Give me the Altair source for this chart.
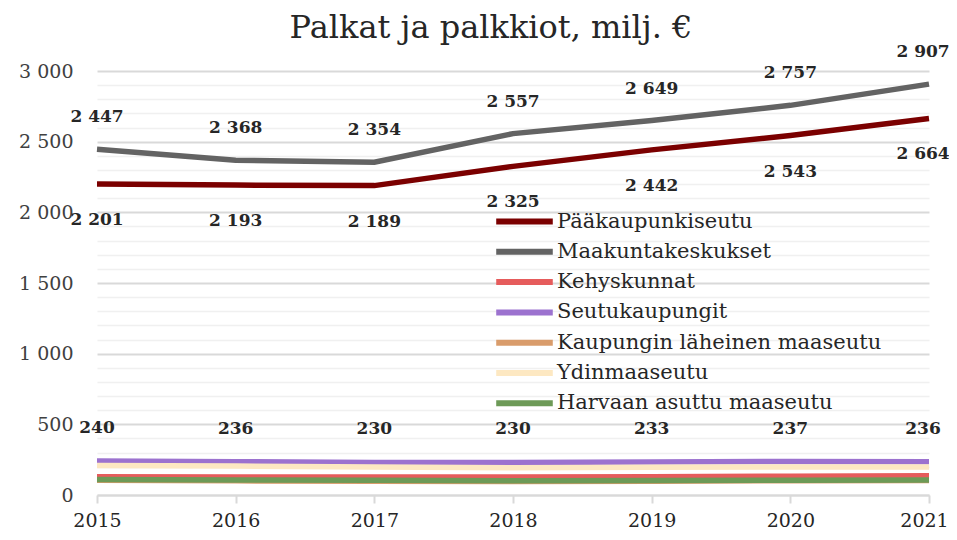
import altair as alt
import pandas as pd

years = [2015, 2016, 2017, 2018, 2019, 2020, 2021]
series_names = [
    "Pääkaupunkiseutu",
    "Maakuntakeskukset",
    "Kehyskunnat",
    "Seutukaupungit",
    "Kaupungin läheinen maaseutu",
    "Ydinmaaseutu",
    "Harvaan asuttu maaseutu",
]
paakaupunkiseutu = [2201, 2193, 2189, 2325, 2442, 2543, 2664]
maakuntakeskukset = [2447, 2368, 2354, 2557, 2649, 2757, 2907]
kehyskunnat = [130, 128, 127, 127, 130, 133, 136]
seutukaupungit = [240, 236, 230, 230, 233, 237, 236]
kaupungin_laheinen = [105, 100, 98, 96, 98, 101, 103]
ydinmaaseutu = [209, 205, 198, 192, 196, 199, 199]
harvaan_asuttu = [110, 106, 104, 101, 103, 105, 106]
colors = ["#7b0000", "#636363", "#e65c5c", "#9c72cf", "#d99c6b", "#fde8c2", "#6d9a57"]

all_values = [paakaupunkiseutu, maakuntakeskukset, kehyskunnat, seutukaupungit,
              kaupungin_laheinen, ydinmaaseutu, harvaan_asuttu]
rows = []
for name, vals in zip(series_names, all_values):
    for yr, v in zip(years, vals):
        rows.append({"Vuosi": yr, "Alue": name, "Arvo": v})
df = pd.DataFrame(rows)

FONT = "DejaVu Serif"
LAST = years[-1]

x = alt.X("Vuosi:Q",
          scale=alt.Scale(domain=[2015, 2021], nice=False, zero=False),
          axis=alt.Axis(values=years, format="d", title=None, grid=False,
                        labelFlush=False,
                        labelOffset=alt.condition(f"datum.value == {LAST}", alt.value(-5), alt.value(0)),
                        labelFont=FONT, labelFontSize=19, labelColor="#262626",
                        labelPadding=8, domainColor="#d9d9d9", domainWidth=2,
                        tickColor="#d9d9d9", tickWidth=2, tickSize=8))
y = alt.Y("Arvo:Q",
          scale=alt.Scale(domain=[0, 3000], nice=False),
          axis=alt.Axis(values=list(range(0, 3001, 100)), title=None,
                        labelExpr="datum.value % 500 === 0 ? replace(format(datum.value, ','), ',', ' ') : ''",
                        labelOverlap=False,
                        labelFont=FONT, labelFontSize=19, labelColor="#404040",
                        labelPadding=24, domain=False, ticks=False,
                        gridColor=alt.condition("datum.value % 500 === 0", alt.value("#d9d9d9"), alt.value("#f0f0f0")),
                        gridWidth=alt.condition("datum.value % 500 === 0", alt.value(2), alt.value(1.5))))

lines = alt.Chart(df).mark_line(strokeWidth=5.5, interpolate="linear").encode(
    x=x, y=y,
    color=alt.Color("Alue:N", sort=series_names,
                    scale=alt.Scale(domain=series_names, range=colors),
                    legend=alt.Legend(title=None, orient="none", legendX=410, legendY=133,
                                      symbolType="M-2,0H2", symbolStrokeWidth=6,
                                      symbolSize=800, labelFont=FONT, labelFontSize=21,
                                      labelColor="#262626", rowPadding=0.3, labelOffset=15,
                                      labelLimit=400)),
)

def labels(name, dy):
    base = alt.Chart(df).transform_filter(alt.datum.Alue == name).transform_calculate(
        label="replace(format(datum.Arvo, ','), ',', ' ')"
    )
    inner = base.transform_filter(alt.datum.Vuosi < LAST).mark_text(
        font=FONT, fontSize=17, fontWeight="bold", color="#262626", dy=dy
    ).encode(x=x, y=y, text="label:N")
    last = base.transform_filter(alt.datum.Vuosi == LAST).mark_text(
        font=FONT, fontSize=17, fontWeight="bold", color="#262626", dy=dy, dx=-6
    ).encode(x=x, y=y, text="label:N")
    return [inner, last]

chart = alt.layer(
    lines,
    *labels("Pääkaupunkiseutu", 36),
    *labels("Maakuntakeskukset", -32),
    *labels("Seutukaupungit", -33),
).properties(
    width=832, height=424,
    title=alt.TitleParams("Palkat ja palkkiot, milj. €", font=FONT, fontSize=32,
                          fontWeight="normal", color="#262626", anchor="middle",
                          dx=-22, offset=3, dy=5),
    autosize=alt.AutoSizeParams(type="none"),
    padding={"left": 89, "top": 63, "right": 20, "bottom": 36},
).configure_view(stroke=None)

chart.save("out.html", embed_options={"renderer": "svg", "actions": False})
